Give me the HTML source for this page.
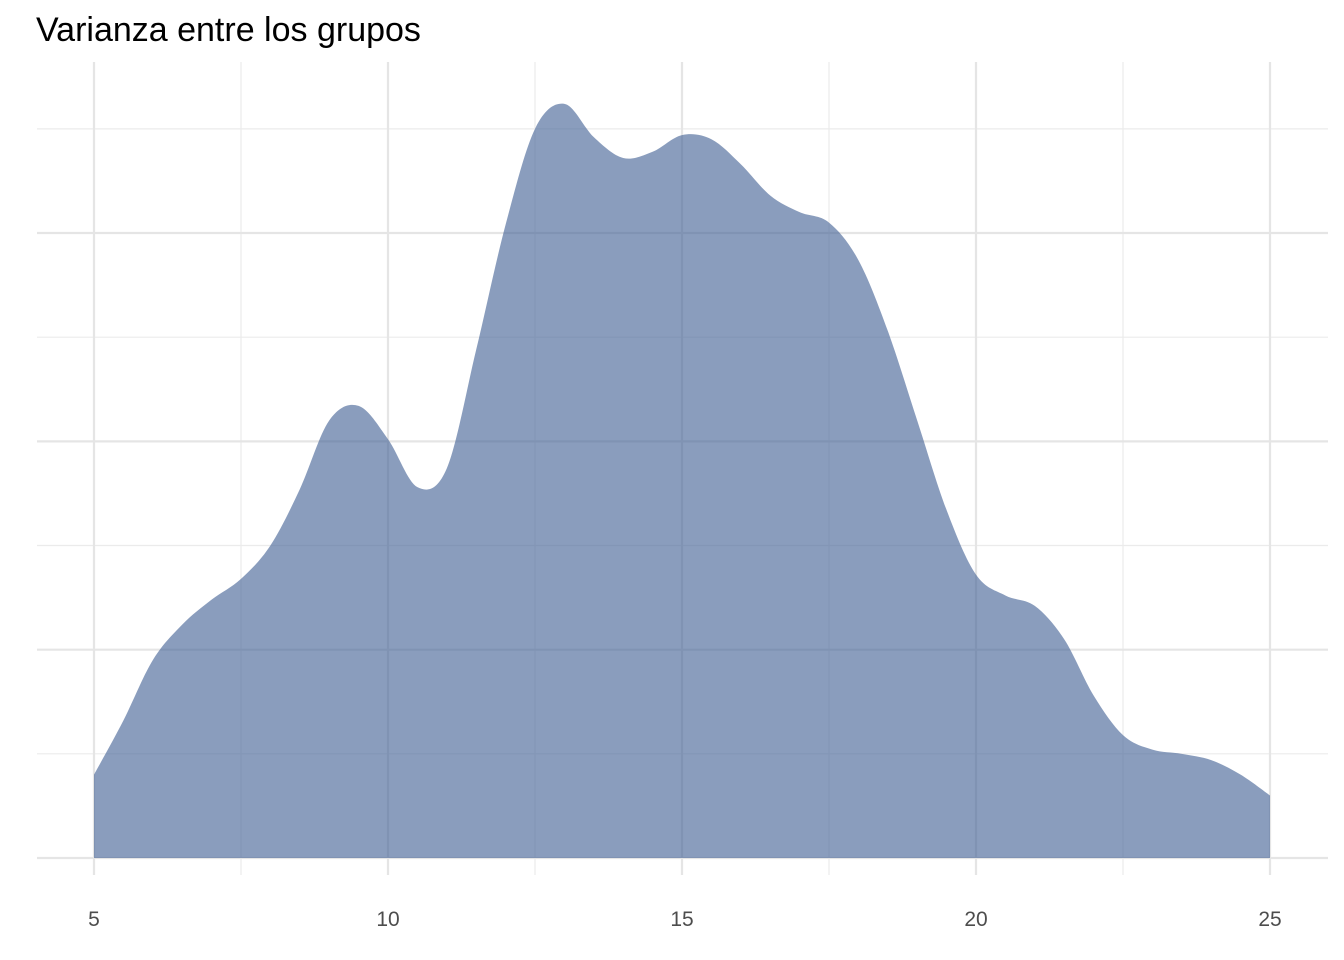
<!DOCTYPE html>
<html><head><meta charset="utf-8"><style>
body{margin:0;background:#fff}
svg{display:block;font-family:"Liberation Sans",Arial,sans-serif}
</style></head><body>
<svg id="chart" width="1344" height="960">
<text x="36" y="41" font-size="34" fill="#000">Varianza entre los grupos</text>
<g id="grid"></g><g id="area"></g><g id="ticks"></g>
</svg>
<script>
const xs=[5,5.5,6,6.5,7,7.5,8,8.5,9,9.5,10,10.5,11,11.5,12,12.5,13,13.5,14,14.5,15,15.5,16,16.5,17,17.5,18,18.5,19,19.5,20,20.5,21,21.5,22,22.5,23,23.5,24,24.5,25];
const dens=[0.40,0.66,0.95,1.12,1.24,1.34,1.50,1.77,2.10,2.17,2.01,1.78,1.87,2.44,3.04,3.50,3.62,3.46,3.36,3.39,3.47,3.45,3.33,3.18,3.10,3.05,2.87,2.53,2.10,1.67,1.36,1.26,1.21,1.05,0.78,0.59,0.52,0.50,0.47,0.40,0.30];
const xTicks=[5,10,15,20,25];
const xMinor=[7.5,12.5,17.5,22.5];
const yMajor=[0,1,2,3];
const yMinor=[0.5,1.5,2.5,3.5];
const NS="http://www.w3.org/2000/svg";
const X=v=>94+(v-5)*58.8;
const Y=v=>858-v*208.33;
const L=37,R=1328,T=62,B=875;
function mk(t,a,p){const e=document.createElementNS(NS,t);for(const k in a)e.setAttribute(k,a[k]);p.appendChild(e);return e;}
const g=document.getElementById('grid');
yMinor.forEach(v=>{const e=mk('line',{x1:L,x2:R,y1:Y(v),y2:Y(v),stroke:'#ebebeb','stroke-width':1.2},g);

});
xMinor.forEach(v=>{const e=mk('line',{x1:X(v),x2:X(v),y1:T,y2:B,stroke:'#ebebeb','stroke-width':1.2},g);

});
yMajor.forEach(v=>{const e=mk('line',{x1:L,x2:R,y1:Y(v),y2:Y(v),stroke:'#e5e5e5','stroke-width':2.2},g);

});
xTicks.forEach(v=>{const e=mk('line',{x1:X(v),x2:X(v),y1:T,y2:B,stroke:'#e5e5e5','stroke-width':2.2},g);

});
const pts=xs.map((x,i)=>[X(x),Y(dens[i])]);
let d=`M${X(xs[0])},${Y(0)}L${pts[0][0]},${pts[0][1]}`;
for(let i=0;i<pts.length-1;i++){const p0=pts[Math.max(i-1,0)],p1=pts[i],p2=pts[i+1],p3=pts[Math.min(i+2,pts.length-1)];
d+=`C${p1[0]+(p2[0]-p0[0])/6},${p1[1]+(p2[1]-p0[1])/6} ${p2[0]-(p3[0]-p1[0])/6},${p2[1]-(p3[1]-p1[1])/6} ${p2[0]},${p2[1]}`;}
d+=`L${X(xs[xs.length-1])},${Y(0)}Z`;
const a=mk('path',{d:d,fill:'rgb(70,100,150)','fill-opacity':0.63},document.getElementById('area'));


const tk=document.getElementById('ticks');
xTicks.forEach(v=>{const e=mk('text',{x:X(v),y:926,'font-size':21,fill:'#4d4d4d','text-anchor':'middle'},tk);e.textContent=v;

});
</script>
</body></html>
